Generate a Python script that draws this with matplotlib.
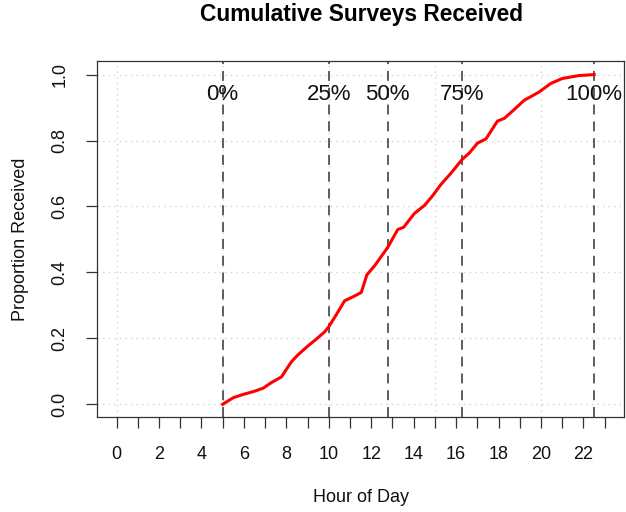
import matplotlib
matplotlib.use('Agg')
import matplotlib.pyplot as plt

# cumulative proportion of surveys received by hour of day
hours = [5.0, 5.5, 5.97, 6.52, 6.91, 7.30, 7.77, 8.24, 8.55, 9.02, 9.42, 9.81,
         10.0, 10.32, 10.75, 11.14, 11.53, 11.80, 12.16, 12.67, 12.78, 13.25,
         13.53, 14.04, 14.51, 14.90, 15.29, 15.76, 16.28, 16.62, 17.01, 17.41,
         17.95, 18.27, 18.74, 19.21, 19.91, 20.46, 21.0, 21.79, 22.51]
proportion = [0.0, 0.02, 0.030, 0.040, 0.049, 0.066, 0.083, 0.129, 0.150, 0.177,
              0.198, 0.220, 0.235, 0.268, 0.314, 0.326, 0.339, 0.393, 0.420,
              0.466, 0.476, 0.530, 0.537, 0.579, 0.603, 0.633, 0.667, 0.701,
              0.742, 0.762, 0.792, 0.805, 0.859, 0.867, 0.894, 0.922, 0.947,
              0.973, 0.988, 0.997, 1.0]

# quantiles of arrival time
quant_hours = [5.0, 10.0, 12.77, 16.28, 22.51]
quant_labels = ['0%', '25%', '50%', '75%', '100%']

x_ticks = list(range(0, 24))
x_ticklabels = [str(h) if h % 2 == 0 else '' for h in x_ticks]
y_ticks = [0.0, 0.2, 0.4, 0.6, 0.8, 1.0]
x_grid = [0, 5, 10, 15, 20]

plt.rcParams['font.family'] = ['Liberation Sans', 'DejaVu Sans']

fig = plt.figure(figsize=(6.26, 5.12), dpi=100)
ax = fig.add_axes([0.155, 0.1846, 0.842, 0.6955])

# R-style dotted grid
for g in y_ticks:
    ax.axhline(g, color='#d3d3d3', lw=1.0, linestyle=(0, (1, 3)), zorder=1)
for g in x_grid:
    ax.axvline(g, color='#d3d3d3', lw=1.0, linestyle=(0, (1, 3)), zorder=1)

ax.plot(hours, proportion, color='red', lw=2.2, zorder=3)

for qh, ql in zip(quant_hours, quant_labels):
    ax.axvline(qh, color='#333333', lw=1.1, linestyle=(0, (6.5, 4.5)), zorder=2)
    ax.text(qh, 0.94, ql, ha='center', va='center', fontsize=16, color='#111111', zorder=4)

ax.set_xlim(-0.92, 23.92)
ax.set_ylim(-0.04, 1.04)
ax.set_xticks(x_ticks)
ax.set_xticklabels(x_ticklabels)
ax.set_yticks(y_ticks)
ax.set_yticklabels(['%.1f' % v for v in y_ticks], rotation=90, va='center')
ax.tick_params(direction='out', length=8, width=0.9, color='#333333',
               labelsize=13, pad=12.5, labelcolor='#111111')
for s in ax.spines.values():
    s.set_color('#333333')
    s.set_linewidth(0.9)

ax.set_xlabel('Hour of Day', fontsize=13, labelpad=18.5, color='#111111')
ax.set_ylabel('Proportion Received', fontsize=13, labelpad=16.5, color='#111111')
fig.text(0.577, 0.972, 'Cumulative Surveys Received', ha='center', va='center',
         fontsize=16.4, fontweight='bold')

fig.savefig('out.png', dpi=100)
